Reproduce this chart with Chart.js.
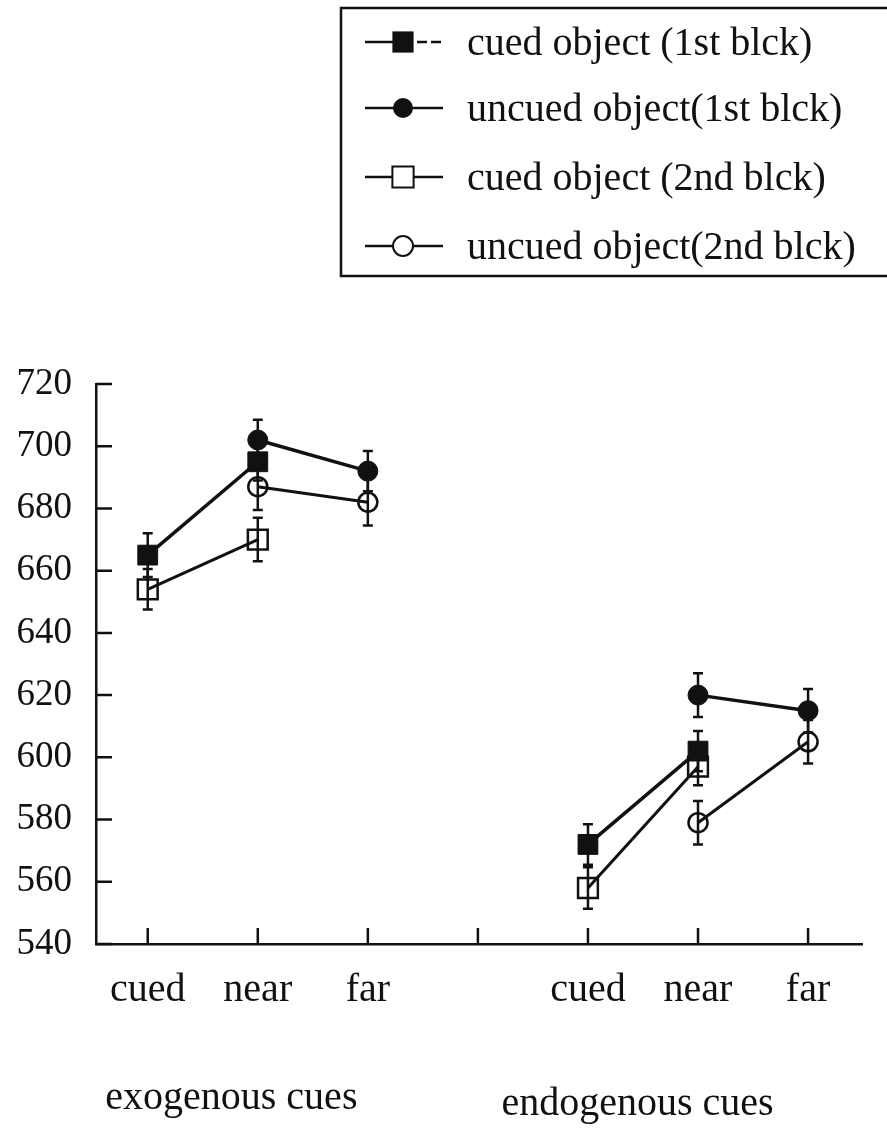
<!DOCTYPE html>
<html><head><meta charset="utf-8">
<script src="https://cdn.jsdelivr.net/npm/chart.js@4.4.1/dist/chart.umd.min.js"></script>
<style>html,body{margin:0;padding:0;background:#fff;}canvas{display:block;}</style>
</head><body>
<canvas id="c" width="887" height="1128"></canvas>
<script>
// ---- data ----
const categories = ['cued', 'near', 'far', '', 'cued', 'near', 'far'];
const seriesLabels = ['cued object (1st blck)', 'uncued object(1st blck)', 'cued object (2nd blck)', 'uncued object(2nd blck)'];
const cuedObj1   = [665, 695, null, null, 572, 602, null];
const uncuedObj1 = [null, 702, 692, null, null, 620, 615];
const cuedObj2   = [654, 670, null, null, 558, 597, null];
const uncuedObj2 = [null, 687, 682, null, null, 579, 605];
const errCued1   = [7, 6, null, null, 6.5, 6.5, null];
const errUncued1 = [null, 6.5, 6.5, null, null, 7, 7];
const errCued2   = [6.5, 7, null, null, 6.7, 6, null];
const errUncued2 = [null, 7.5, 7.5, null, null, 7, 7];
const yMin = 540, yMax = 720, yStep = 20;
const groupLabels = ['exogenous cues', 'endogenous cues'];

// ---- layout / style ----
const INK = '#111';
const FONT = '"Liberation Serif", "Times New Roman", serif';
const groupLabelPos = [{x: 0.76, y: 1098}, {x: 4.45, y: 1104}];

function toPoints(arr) { return arr.map((v, i) => ({x: i, y: v})); }

const datasets = [
  {label: seriesLabels[0], data: toPoints(cuedObj1), errors: errCued1, pointStyle: 'rect', pointRadius: 14,
   backgroundColor: INK, borderColor: INK, borderWidth: 3.5, pointBorderWidth: 1, legendDash: true},
  {label: seriesLabels[1], data: toPoints(uncuedObj1), errors: errUncued1, pointStyle: 'circle', pointRadius: 10,
   backgroundColor: INK, borderColor: INK, borderWidth: 3.5, pointBorderWidth: 1},
  {label: seriesLabels[2], data: toPoints(cuedObj2), errors: errCued2, pointStyle: 'rect', pointRadius: 14,
   backgroundColor: 'rgba(255,255,255,0)', borderColor: INK, borderWidth: 3, pointBorderWidth: 2.5},
  {label: seriesLabels[3], data: toPoints(uncuedObj2), errors: errUncued2, pointStyle: 'circle', pointRadius: 9.5,
   backgroundColor: 'rgba(255,255,255,0)', borderColor: INK, borderWidth: 3, pointBorderWidth: 2.5}
];
datasets.forEach(d => { d.pointBackgroundColor = d.backgroundColor; d.pointBorderColor = INK; d.fill = false; d.tension = 0; d.spanGaps = false; d.pointHoverRadius = d.pointRadius; });

const errorBars = {
  id: 'errorBars',
  beforeDatasetsDraw(chart) {
    const {ctx, scales: {x, y}} = chart;
    ctx.save();
    ctx.strokeStyle = INK; ctx.lineWidth = 2.5;
    chart.data.datasets.forEach(ds => {
      ds.data.forEach((p, i) => {
        const e = ds.errors[i];
        if (p.y == null || e == null) return;
        const px = x.getPixelForValue(p.x);
        const top = y.getPixelForValue(p.y + e), bot = y.getPixelForValue(p.y - e);
        ctx.beginPath();
        ctx.moveTo(px, top); ctx.lineTo(px, bot);
        ctx.moveTo(px - 5, top); ctx.lineTo(px + 5, top);
        ctx.moveTo(px - 5, bot); ctx.lineTo(px + 5, bot);
        ctx.stroke();
      });
    });
    ctx.restore();
  }
};

const innerTicks = {
  id: 'innerTicks',
  afterDraw(chart) {
    const {ctx, scales: {x, y}, chartArea} = chart;
    ctx.save();
    ctx.strokeStyle = INK; ctx.lineWidth = 2.5;
    ctx.beginPath();
    y.ticks.forEach(t => { const py = y.getPixelForValue(t.value); ctx.moveTo(chartArea.left, py); ctx.lineTo(chartArea.left + 16, py); });
    x.ticks.forEach(t => { const px = x.getPixelForValue(t.value); ctx.moveTo(px, chartArea.bottom); ctx.lineTo(px, chartArea.bottom - 16); });
    ctx.stroke();
    // group labels
    ctx.fillStyle = INK; ctx.font = '40px ' + FONT; ctx.textAlign = 'center'; ctx.textBaseline = 'middle';
    groupLabels.forEach((g, i) => ctx.fillText(g, x.getPixelForValue(groupLabelPos[i].x), groupLabelPos[i].y));
    ctx.restore();
  }
};

function drawMarker(ctx, style, filled, cx, cy, r) {
  ctx.beginPath();
  if (style === 'rect') { const s = Math.SQRT1_2 * r; ctx.rect(cx - s, cy - s, 2 * s, 2 * s); }
  else ctx.arc(cx, cy, r, 0, Math.PI * 2);
  if (filled) { ctx.fillStyle = INK; ctx.fill(); }
  else { ctx.fillStyle = '#fff'; ctx.fill(); ctx.lineWidth = 2; ctx.strokeStyle = INK; ctx.stroke(); }
}

const boxLegend = {
  id: 'boxLegend',
  afterDraw(chart) {
    const {ctx} = chart;
    ctx.save();
    ctx.strokeStyle = INK; ctx.lineWidth = 2.5;
    ctx.strokeRect(341, 8, 560, 268);
    const rows = [42, 108, 177, 246];
    ctx.font = '40px ' + FONT; ctx.textBaseline = 'middle'; ctx.textAlign = 'left';
    chart.data.datasets.forEach((ds, i) => {
      const cy = rows[i];
      ctx.strokeStyle = INK; ctx.lineWidth = 2.5;
      ctx.beginPath(); ctx.moveTo(365, cy); ctx.lineTo(403, cy); ctx.stroke();
      if (ds.legendDash) ctx.setLineDash([10, 4]);
      ctx.beginPath(); ctx.moveTo(403, cy); ctx.lineTo(443, cy); ctx.stroke();
      ctx.setLineDash([]);
      const filled = ds.backgroundColor === INK;
      drawMarker(ctx, ds.pointStyle, filled, 403, cy, ds.pointStyle === 'rect' ? 15 : 10);
      ctx.fillStyle = INK;
      ctx.fillText(ds.label, 467, cy + 2);
    });
    ctx.restore();
  }
};

new Chart(document.getElementById('c'), {
  type: 'line',
  data: {datasets},
  options: {
    responsive: false,
    devicePixelRatio: 1,
    animation: false,
    layout: {padding: {top: 384, right: 25, left: 0, bottom: 0}},
    plugins: {legend: {display: false}, tooltip: {enabled: false}},
    scales: {
      x: {
        type: 'linear', min: -0.47, max: 6.49,
        afterBuildTicks: s => { s.ticks = categories.map((c, i) => ({value: i})); },
        afterFit: s => { s.height = 184; },
        grid: {display: false, drawTicks: false},
        border: {display: true, color: INK, width: 2.5},
        ticks: {
          autoSkip: false, maxRotation: 0, padding: 22, color: INK,
          font: {family: FONT, size: 40},
          callback: v => categories[Math.round(v)] || ''
        }
      },
      y: {
        min: yMin, max: yMax,
        afterFit: s => { s.width = 96; },
        grid: {display: false, drawTicks: false},
        border: {display: true, color: INK, width: 2.5},
        ticks: {stepSize: yStep, padding: 24, color: INK, font: {family: FONT, size: 37}}
      }
    }
  },
  plugins: [errorBars, innerTicks, boxLegend]
});
</script>
</body></html>
